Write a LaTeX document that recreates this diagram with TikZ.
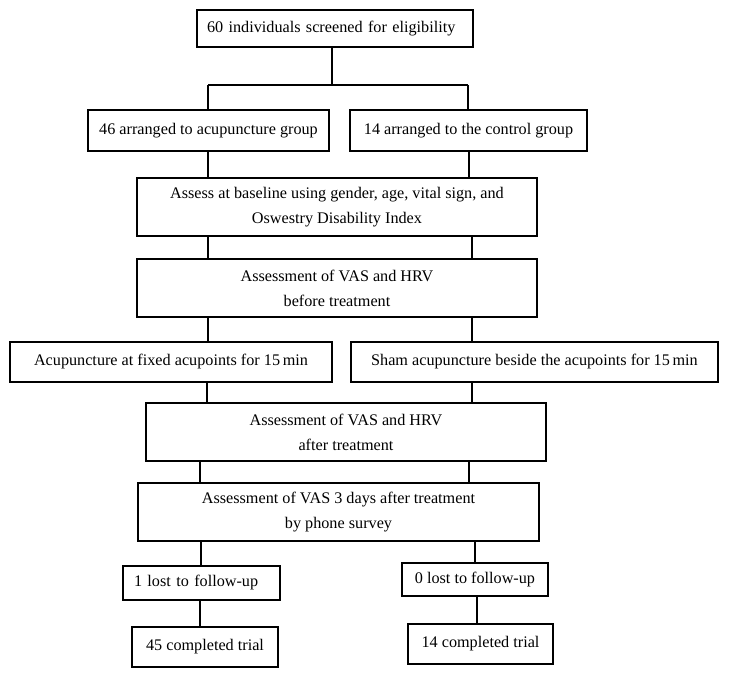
\documentclass[tikz,border=0pt]{standalone}
\usepackage{fontspec}
\setmainfont{Liberation Serif}
\begin{document}
\begin{tikzpicture}[x=1pt,y=-1pt,
  box/.style={draw, line width=1.2pt, inner sep=0pt, align=center,
    font=\fontsize{16.2}{25}\selectfont},
  conn/.style={line width=1.2pt}]
\useasboundingbox (0,0) rectangle (729,678);
% boxes
\node[box, minimum width=276, minimum height=37, text width=256, align=left] (b1) at (335,28.5) {60 individuals screened for eligibility};
\node[box, minimum width=241, minimum height=41] (b2) at (208.5,130.5) {46 arranged to acupuncture group};
\node[box, minimum width=237, minimum height=41] (b3) at (468.5,130.5) {14 arranged to the control group};
\node[box, minimum width=400, minimum height=58] (b4) at (337,207) {Assess at baseline using gender, age, vital sign, and\\Oswestry Disability Index};
\node[box, minimum width=400, minimum height=58] (b5) at (337,288) {Assessment of VAS and HRV\\before treatment};
\node[box, minimum width=322, minimum height=40] (b6) at (171,362) {Acupuncture at fixed acupoints for 15\,min};
\node[box, minimum width=367, minimum height=40] (b6b) at (534.5,362) {Sham acupuncture beside the acupoints for 15\,min};
\node[box, minimum width=400, minimum height=58] (b7) at (346,432) {Assessment of VAS and HRV\\after treatment};
\node[box, minimum width=401, minimum height=58] (b8) at (338.5,512) {Assessment of VAS 3 days after treatment\\by phone survey};
\node[box, minimum width=157, minimum height=34, text width=135, align=left] (b9) at (201.5,583) {1 lost to follow-up};
\node[box, minimum width=146, minimum height=40] (b10) at (205,647) {45 completed trial};
\node[box, minimum width=146, minimum height=33] (b11) at (475,579.5) {0 lost to follow-up};
\node[box, minimum width=145, minimum height=40] (b12) at (480.5,644) {14 completed trial};
% connector guides
\coordinate (split) at (332,85);
\coordinate (sl) at (208,85);
\coordinate (sr) at (468,85);
% connectors
\draw[conn] (b1.south -| split) -- (split);
\draw[conn] (sl) -- (sr);
\draw[conn] (sl) -- (b2.north -| sl);
\draw[conn] (sr) -- (b3.north -| sr);
\draw[conn] (b2.south -| 208,0) -- (b4.north -| 208,0);
\draw[conn] (b3.south -| 469,0) -- (b4.north -| 469,0);
\draw[conn] (b4.south -| 208,0) -- (b5.north -| 208,0);
\draw[conn] (b4.south -| 472,0) -- (b5.north -| 472,0);
\draw[conn] (b5.south -| 208,0) -- (b6.north -| 208,0);
\draw[conn] (b5.south -| 472,0) -- (b6b.north -| 472,0);
\draw[conn] (b6.south -| 207,0) -- (b7.north -| 207,0);
\draw[conn] (b6b.south -| 472,0) -- (b7.north -| 472,0);
\draw[conn] (b7.south -| 200,0) -- (b8.north -| 200,0);
\draw[conn] (b7.south -| 469,0) -- (b8.north -| 469,0);
\draw[conn] (b8.south -| 201,0) -- (b9.north -| 201,0);
\draw[conn] (b8.south -| 475,0) -- (b11.north -| 475,0);
\draw[conn] (b9.south -| 200,0) -- (b10.north -| 200,0);
\draw[conn] (b11.south -| 477,0) -- (b12.north -| 477,0);
\end{tikzpicture}
\end{document}
